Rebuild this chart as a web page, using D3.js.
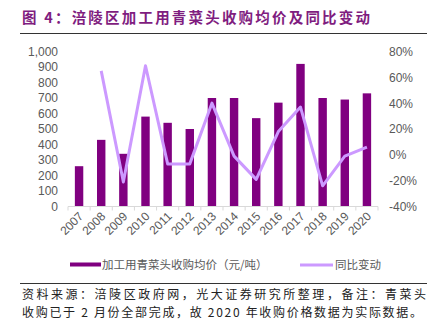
<!DOCTYPE html>
<html><head><meta charset="utf-8">
<script src="https://cdn.jsdelivr.net/npm/d3@7"></script>
<style>
html,body{margin:0;padding:0;background:#fff;}
svg{display:block;}
</style></head>
<body>
<script>
const years = ["2007","2008","2009","2010","2011","2012","2013","2014","2015","2016","2017","2018","2019","2020"];
const prices = [260,430,340,580,540,500,700,700,570,670,920,700,690,730];
const yoyYears = ["2008","2009","2010","2011","2012","2013","2014","2015","2016","2017","2018","2019","2020"];
const yoy = [65,-21,69,-7,-7,40,-1,-19,18,37,-24,-1,6];
const leftTicks = [0,100,200,300,400,500,600,700,800,900,1000];
const rightTicks = [-40,-20,0,20,40,60,80];
const titleText = "图 4：涪陵区加工用青菜头收购均价及同比变动";
const legendLabels = ["加工用青菜头收购均价（元/吨）","同比变动"];
const footer1 = "资料来源：涪陵区政府网，光大证券研究所整理，备注：青菜头";
const footer2 = "收购已于 2 月份全部完成，故 2020 年收购价格数据为实际数据。";

const W=429,H=326;
const svg=d3.select("body").append("svg").attr("width",W).attr("height",H);
const cjk="'Noto Sans CJK SC','Noto Sans',sans-serif";
const sans="'Liberation Sans',Arial,sans-serif";
const barColor="#800080", lineColor="#cc99ff", gray="#595959";

// title
svg.append("text").attr("x",22).attr("y",23).attr("fill","#7f1d80")
  .attr("font-family",cjk).attr("font-weight","bold").attr("font-size",14.5)
  .attr("textLength",348).attr("lengthAdjust","spacing").text(titleText);
svg.append("line").attr("x1",20).attr("x2",427).attr("y1",33.5).attr("y2",33.5)
  .attr("stroke","#333").attr("stroke-width",1);

const x=d3.scaleBand().domain(years).range([68,378]).paddingInner(0.62).paddingOuter(0.31);
const yL=d3.scaleLinear().domain([0,1000]).range([206.5,51.5]);
const yR=d3.scaleLinear().domain([-40,80]).range([206.5,51.5]);

// bars
svg.append("g").selectAll("rect").data(years).join("rect")
  .attr("x",d=>x(d)).attr("width",x.bandwidth())
  .attr("y",(d,i)=>yL(prices[i])).attr("height",(d,i)=>yL(0)-yL(prices[i]))
  .attr("fill",barColor);

// x axis line & ticks at band edges
const step=x.step();
const x0=x.range()[0];
svg.append("line").attr("x1",68).attr("x2",378).attr("y1",206.5).attr("y2",206.5)
  .attr("stroke","#d9d9d9").attr("stroke-width",1);
svg.append("g").selectAll("line").data(d3.range(years.length+1)).join("line")
  .attr("x1",i=>x0+i*step).attr("x2",i=>x0+i*step)
  .attr("y1",206.5).attr("y2",210.5).attr("stroke","#d9d9d9");

// x labels
svg.append("g").selectAll("text").data(years).join("text")
  .attr("transform",d=>`translate(${x(d)+x.bandwidth()/2+2},${214}) rotate(-45)`)
  .attr("text-anchor","end").attr("dy","0.35em")
  .attr("font-family",sans).attr("font-size",12).attr("fill",gray).text(d=>d);

// left axis
const gL=svg.append("g").attr("transform","translate(60,0)")
  .call(d3.axisLeft(yL).tickValues(leftTicks).tickSize(0).tickPadding(2));
gL.select(".domain").remove();
gL.selectAll("text").attr("font-family",sans).attr("font-size",12).attr("fill",gray);

// right axis
const gR=svg.append("g").attr("transform","translate(387,0)")
  .call(d3.axisRight(yR).tickValues(rightTicks).tickSize(0).tickPadding(2).tickFormat(d=>d+"%"));
gR.select(".domain").remove();
gR.selectAll("text").attr("font-family",sans).attr("font-size",12).attr("fill",gray);

// line
const line=d3.line().x((d,i)=>x(yoyYears[i])+x.bandwidth()/2).y(d=>yR(d));
svg.append("path").datum(yoy).attr("d",line).attr("fill","none")
  .attr("stroke",lineColor).attr("stroke-width",3).attr("stroke-linejoin","round");

// legend
svg.append("rect").attr("x",70).attr("y",262.5).attr("width",31).attr("height",4).attr("fill",barColor);
svg.append("text").attr("x",102).attr("y",265).attr("dy","0.35em")
  .attr("font-family",cjk).attr("font-size",11.5).attr("fill",gray).text(legendLabels[0]);
svg.append("line").attr("x1",300).attr("x2",333).attr("y1",265).attr("y2",265)
  .attr("stroke",lineColor).attr("stroke-width",3);
svg.append("text").attr("x",335).attr("y",265).attr("dy","0.35em")
  .attr("font-family",cjk).attr("font-size",11.5).attr("fill",gray).text(legendLabels[1]);

// footer
svg.append("line").attr("x1",20).attr("x2",427).attr("y1",283.5).attr("y2",283.5)
  .attr("stroke","#333").attr("stroke-width",1);
svg.append("text").attr("x",22).attr("y",299)
  .attr("font-family",cjk).attr("font-size",12).attr("fill","#222")
  .attr("textLength",404).attr("lengthAdjust","spacing").text(footer1);
svg.append("text").attr("x",22).attr("y",317)
  .attr("font-family",cjk).attr("font-size",12).attr("fill","#222")
  .attr("textLength",400).attr("lengthAdjust","spacing").text(footer2);
</script>
</body></html>
